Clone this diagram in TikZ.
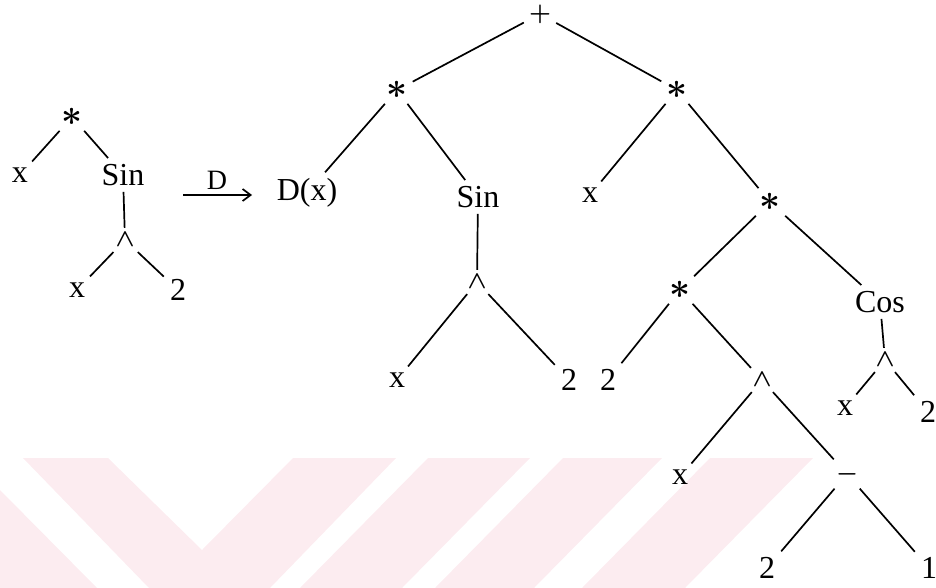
\documentclass[tikz,border=0pt]{standalone}
\usepackage{fontspec}
\setmainfont{Liberation Serif}
\usetikzlibrary{arrows.meta}
\definecolor{wmpink}{RGB}{252,236,240}
\newcommand{\opast}{\resizebox{21pt}{!}{\boldmath$\ast$}}
\newcommand{\opwedge}{\resizebox{19pt}{!}{\boldmath$\wedge$}}
\newcommand{\opplus}{\resizebox{22pt}{!}{\boldmath$+$}}
\newcommand{\opminus}{\resizebox{22pt}{!}{\boldmath$-$}}
\tikzset{
  lbl/.style={font=\fontsize{32}{38}\selectfont, inner sep=6pt},
  starop/.style={inner sep=5pt},
  smallop/.style={inner sep=5pt},
  edge/.style={line width=1.7pt, black},
  wm/.style={fill=wmpink, draw=none}
}
\begin{document}
\begin{tikzpicture}[x=1pt,y=-1pt]
\useasboundingbox (0,0) rectangle (936,588);
% watermark
\fill[wm] (0,490) -- (97,588) -- (0,588) -- cycle;
\fill[wm] (23,458) -- (108,458) -- (202,550) -- (293,458) -- (396,458) -- (270,588) -- (149,588) -- cycle;
\fill[wm] (428,458) -- (530,458) -- (402,588) -- (300,588) -- cycle;
\fill[wm] (563,458) -- (662,458) -- (534,588) -- (435,588) -- cycle;
\fill[wm] (710,458) -- (813,458) -- (685,588) -- (582,588) -- cycle;

% left tree
\node[starop] (L1) at (72,117) {\opast};
\node[lbl] (L2) at (20,175) {x};
\node[lbl] (L3) at (123,175) {Sin};
\node[smallop] (L4) at (125,240) {\opwedge};
\node[lbl] (L5) at (77,290) {x};
\node[lbl] (L6) at (178,290) {2};
\draw[edge] (L1) -- (L2);
\draw[edge] (L1) -- (L3);
\draw[edge] (L3) -- (L4);
\draw[edge] (L4) -- (L5);
\draw[edge] (L4) -- (L6);

% arrow
\coordinate (a1) at (183,195);
\coordinate (a2) at (252,195);
\draw[edge,-{Straight Barb[length=8pt,width=12pt]}] (a1) -- (a2);
\node[font=\fontsize{28}{32}\selectfont, inner sep=0pt] (Dlab) at (217,180) {D};

% right tree
\node[smallop] (R0) at (540,14) {\opplus};
\node[starop] (R1) at (397,90) {\opast};
\node[starop] (R2) at (677,90) {\opast};
\node[lbl] (R3) at (307,193) {D(x)};
\node[lbl] (R4) at (478,197) {Sin};
\node[smallop] (R5) at (477,282) {\opwedge};
\node[lbl] (R6) at (397,380) {x};
\node[lbl] (R7) at (569,380) {2};
\node[lbl] (R8) at (590,195) {x};
\node[starop] (R9) at (770,202) {\opast};
\node[starop] (R10) at (680,290) {\opast};
\node[lbl] (R11) at (880,302) {Cos};
\node[smallop] (R12) at (885,360) {\opwedge};
\node[lbl] (R13) at (845,408) {x};
\node[lbl] (R14) at (928,412) {2};
\node[lbl] (R15) at (608,380) {2};
\node[smallop] (R16) at (762,380) {\opwedge};
\node[lbl] (R17) at (680,477) {x};
\node[smallop] (R18) at (847,474) {\opminus};
\node[lbl] (R19) at (767,568) {2};
\node[lbl] (R20) at (929,568) {1};

\draw[edge] (R0) -- (R1);
\draw[edge] (R0) -- (R2);
\draw[edge] (R1) -- (R3);
\draw[edge] (R1) -- (R4);
\draw[edge] (R4) -- (R5);
\draw[edge] (R5) -- (R6);
\draw[edge] (R5) -- (R7);
\draw[edge] (R2) -- (R8);
\draw[edge] (R2) -- (R9);
\draw[edge] (R9) -- (R10);
\draw[edge] (R9) -- (R11);
\draw[edge] (R11) -- (R12);
\draw[edge] (R12) -- (R13);
\draw[edge] (R12) -- (R14);
\draw[edge] (R10) -- (R15);
\draw[edge] (R10) -- (R16);
\draw[edge] (R16) -- (R17);
\draw[edge] (R16) -- (R18);
\draw[edge] (R18) -- (R19);
\draw[edge] (R18) -- (R20);
\end{tikzpicture}
\end{document}
